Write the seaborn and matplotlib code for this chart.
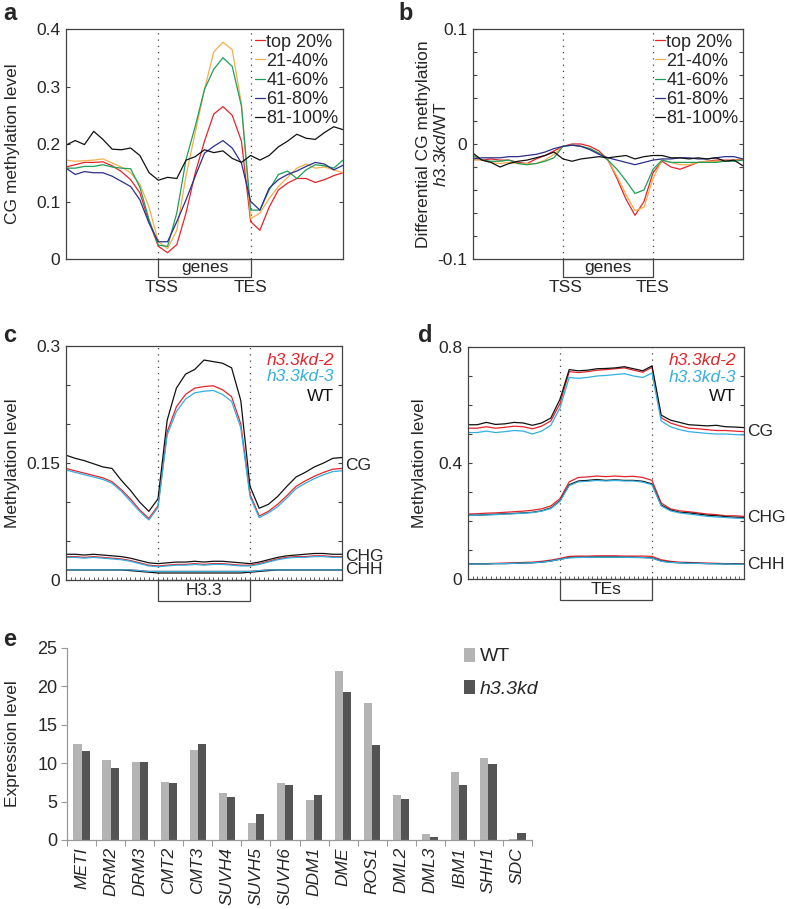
import numpy as np
import pandas as pd
import matplotlib
matplotlib.use("Agg")
import matplotlib.pyplot as plt
import matplotlib.transforms as mtransforms
from matplotlib.patches import Rectangle, Patch
from matplotlib.ticker import MultipleLocator
import seaborn as sns

sns.set_style("ticks")
plt.rcParams['font.family'] = ['Liberation Sans', 'DejaVu Sans']
plt.rcParams['mathtext.fontset'] = 'custom'
plt.rcParams['mathtext.rm'] = 'Liberation Sans'
plt.rcParams['mathtext.it'] = 'Liberation Sans:italic'

# --- dados ---
bins = list(range(0, 61, 2))   # 20 bins a montante, 20 no corpo, 20 a jusante
TSS, TES = 20, 40

# painel a: metilacao CG por quintil de expressao
a_top20 = [0.160, 0.164, 0.168, 0.168, 0.169, 0.162, 0.152, 0.138, 0.115, 0.065, 0.022,
           0.011, 0.025, 0.080, 0.150, 0.205, 0.252, 0.265, 0.250, 0.205, 0.065,
           0.050, 0.090, 0.120, 0.132, 0.140, 0.140, 0.133, 0.138, 0.145, 0.150]
a_21_40 = [0.172, 0.170, 0.171, 0.172, 0.174, 0.167, 0.160, 0.150, 0.130, 0.090, 0.030,
           0.018, 0.050, 0.145, 0.220, 0.295, 0.360, 0.377, 0.364, 0.270, 0.070,
           0.080, 0.105, 0.126, 0.142, 0.158, 0.165, 0.158, 0.160, 0.155, 0.150]
a_41_60 = [0.158, 0.158, 0.161, 0.161, 0.164, 0.160, 0.158, 0.157, 0.125, 0.068, 0.024,
           0.022, 0.080, 0.173, 0.231, 0.295, 0.330, 0.350, 0.335, 0.266, 0.085,
           0.085, 0.120, 0.147, 0.153, 0.140, 0.155, 0.164, 0.162, 0.158, 0.172]
a_61_80 = [0.158, 0.147, 0.152, 0.150, 0.150, 0.144, 0.135, 0.126, 0.103, 0.062, 0.030,
           0.030, 0.065, 0.103, 0.144, 0.184, 0.196, 0.206, 0.193, 0.167, 0.100,
           0.085, 0.123, 0.138, 0.147, 0.153, 0.161, 0.168, 0.165, 0.155, 0.163]
a_81_100 = [0.198, 0.206, 0.199, 0.222, 0.208, 0.191, 0.190, 0.193, 0.180, 0.150, 0.137,
            0.142, 0.140, 0.172, 0.178, 0.190, 0.185, 0.188, 0.175, 0.168, 0.180,
            0.172, 0.180, 0.195, 0.205, 0.217, 0.210, 0.208, 0.220, 0.230, 0.225]

# painel b: diferenca h3.3kd/WT
b_top20 = [-0.012, -0.014, -0.013, -0.014, -0.014, -0.016, -0.017, -0.013, -0.010, -0.006, -0.002,
           0.000, 0.000, -0.002, -0.006, -0.014, -0.030, -0.048, -0.062, -0.050, -0.025,
           -0.015, -0.020, -0.022, -0.019, -0.016, -0.015, -0.014, -0.014, -0.014, -0.013]
b_21_40 = [-0.014, -0.014, -0.016, -0.017, -0.016, -0.017, -0.017, -0.017, -0.014, -0.009, -0.002,
           -0.001, -0.002, -0.004, -0.008, -0.014, -0.028, -0.044, -0.058, -0.055, -0.030,
           -0.014, -0.016, -0.018, -0.018, -0.016, -0.015, -0.015, -0.015, -0.014, -0.014]
b_41_60 = [-0.010, -0.014, -0.015, -0.015, -0.014, -0.017, -0.018, -0.017, -0.015, -0.012, -0.002,
           -0.001, -0.002, -0.004, -0.008, -0.014, -0.022, -0.032, -0.043, -0.040, -0.022,
           -0.014, -0.016, -0.016, -0.016, -0.016, -0.016, -0.016, -0.015, -0.015, -0.014]
b_61_80 = [-0.013, -0.012, -0.012, -0.012, -0.011, -0.011, -0.010, -0.009, -0.007, -0.004, -0.002,
           -0.001, -0.002, -0.005, -0.009, -0.012, -0.014, -0.016, -0.018, -0.016, -0.014,
           -0.013, -0.013, -0.012, -0.012, -0.013, -0.013, -0.012, -0.011, -0.011, -0.013]
b_81_100 = [-0.008, -0.014, -0.016, -0.020, -0.017, -0.015, -0.014, -0.012, -0.010, -0.007, -0.013,
            -0.015, -0.013, -0.012, -0.011, -0.012, -0.011, -0.010, -0.013, -0.011, -0.010,
            -0.010, -0.012, -0.012, -0.013, -0.012, -0.013, -0.012, -0.015, -0.014, -0.019]

# painel c: H3.3
c_cg_wt = [0.160, 0.156, 0.153, 0.149, 0.145, 0.143, 0.128, 0.115, 0.100, 0.088, 0.104,
           0.205, 0.246, 0.264, 0.270, 0.282, 0.280, 0.278, 0.272, 0.230, 0.120,
           0.092, 0.097, 0.107, 0.120, 0.132, 0.138, 0.145, 0.150, 0.156, 0.157]
c_cg_kd2 = [0.143, 0.140, 0.137, 0.134, 0.131, 0.126, 0.116, 0.104, 0.090, 0.079, 0.095,
            0.190, 0.222, 0.238, 0.246, 0.248, 0.249, 0.244, 0.235, 0.200, 0.110,
            0.082, 0.088, 0.097, 0.108, 0.120, 0.127, 0.133, 0.138, 0.142, 0.143]
c_cg_kd3 = [0.141, 0.138, 0.135, 0.132, 0.129, 0.124, 0.114, 0.101, 0.088, 0.077, 0.093,
            0.186, 0.216, 0.232, 0.240, 0.242, 0.243, 0.238, 0.229, 0.195, 0.107,
            0.080, 0.086, 0.094, 0.105, 0.117, 0.124, 0.130, 0.135, 0.139, 0.140]
c_chg_wt = [0.033, 0.033, 0.032, 0.033, 0.032, 0.031, 0.030, 0.028, 0.025, 0.022, 0.021,
            0.022, 0.023, 0.023, 0.024, 0.023, 0.024, 0.024, 0.023, 0.022, 0.021,
            0.023, 0.026, 0.029, 0.031, 0.032, 0.033, 0.034, 0.034, 0.033, 0.033]
c_chg_kd2 = [0.030, 0.030, 0.029, 0.030, 0.029, 0.028, 0.027, 0.025, 0.022, 0.019, 0.018,
             0.019, 0.020, 0.020, 0.021, 0.020, 0.021, 0.021, 0.020, 0.019, 0.019,
             0.021, 0.024, 0.027, 0.029, 0.030, 0.030, 0.031, 0.031, 0.030, 0.030]
c_chg_kd3 = [0.029, 0.029, 0.028, 0.029, 0.028, 0.027, 0.026, 0.024, 0.021, 0.018, 0.017,
             0.018, 0.019, 0.019, 0.020, 0.019, 0.020, 0.020, 0.019, 0.018, 0.018,
             0.020, 0.023, 0.026, 0.028, 0.029, 0.029, 0.030, 0.030, 0.029, 0.029]
c_chh_wt = [0.013, 0.013, 0.013, 0.013, 0.013, 0.013, 0.013, 0.012, 0.011, 0.010, 0.009,
            0.009, 0.009, 0.009, 0.009, 0.009, 0.009, 0.009, 0.009, 0.009, 0.010,
            0.011, 0.012, 0.013, 0.013, 0.013, 0.013, 0.013, 0.013, 0.013, 0.013]
c_chh_kd2 = [0.013, 0.013, 0.013, 0.013, 0.013, 0.013, 0.013, 0.013, 0.012, 0.011, 0.011,
             0.011, 0.011, 0.011, 0.011, 0.011, 0.011, 0.011, 0.011, 0.011, 0.011,
             0.012, 0.013, 0.013, 0.013, 0.013, 0.013, 0.013, 0.013, 0.013, 0.013]
c_chh_kd3 = [0.013, 0.013, 0.013, 0.013, 0.013, 0.013, 0.013, 0.013, 0.012, 0.011, 0.011,
             0.011, 0.011, 0.011, 0.011, 0.011, 0.011, 0.011, 0.011, 0.011, 0.011,
             0.012, 0.013, 0.013, 0.013, 0.013, 0.013, 0.013, 0.013, 0.013, 0.013]

# painel d: TEs
d_cg_wt = [0.532, 0.532, 0.540, 0.533, 0.535, 0.540, 0.538, 0.530, 0.538, 0.555, 0.620,
           0.722, 0.718, 0.720, 0.725, 0.726, 0.728, 0.732, 0.725, 0.718, 0.735,
           0.565, 0.548, 0.540, 0.532, 0.530, 0.528, 0.530, 0.525, 0.524, 0.522]
d_cg_kd2 = [0.520, 0.520, 0.525, 0.520, 0.523, 0.527, 0.525, 0.518, 0.527, 0.545, 0.605,
            0.715, 0.712, 0.715, 0.720, 0.722, 0.725, 0.728, 0.720, 0.713, 0.730,
            0.556, 0.538, 0.528, 0.520, 0.518, 0.515, 0.512, 0.512, 0.510, 0.508]
d_cg_kd3 = [0.505, 0.505, 0.510, 0.505, 0.508, 0.512, 0.510, 0.500, 0.510, 0.530, 0.590,
            0.695, 0.692, 0.695, 0.700, 0.702, 0.705, 0.708, 0.700, 0.695, 0.710,
            0.545, 0.525, 0.515, 0.508, 0.505, 0.502, 0.500, 0.500, 0.498, 0.497]
d_chg_wt = [0.220, 0.220, 0.222, 0.223, 0.225, 0.226, 0.228, 0.230, 0.235, 0.245, 0.270,
            0.325, 0.338, 0.340, 0.343, 0.340, 0.342, 0.340, 0.340, 0.337, 0.328,
            0.255, 0.238, 0.230, 0.228, 0.224, 0.220, 0.218, 0.215, 0.213, 0.212]
d_chg_kd2 = [0.224, 0.225, 0.227, 0.228, 0.230, 0.232, 0.234, 0.237, 0.242, 0.252, 0.277,
             0.335, 0.350, 0.352, 0.355, 0.353, 0.355, 0.353, 0.354, 0.350, 0.340,
             0.262, 0.242, 0.235, 0.232, 0.228, 0.224, 0.222, 0.218, 0.218, 0.216]
d_chg_kd3 = [0.219, 0.220, 0.221, 0.222, 0.224, 0.225, 0.227, 0.229, 0.234, 0.243, 0.268,
             0.322, 0.335, 0.337, 0.340, 0.338, 0.340, 0.338, 0.338, 0.334, 0.325,
             0.252, 0.235, 0.228, 0.224, 0.220, 0.216, 0.214, 0.212, 0.210, 0.209]
d_chh_wt = [0.052, 0.052, 0.052, 0.053, 0.053, 0.054, 0.055, 0.056, 0.058, 0.062, 0.068,
            0.074, 0.075, 0.075, 0.076, 0.076, 0.076, 0.075, 0.075, 0.074, 0.073,
            0.062, 0.058, 0.056, 0.055, 0.054, 0.053, 0.053, 0.052, 0.052, 0.051]
d_chh_kd2 = [0.053, 0.053, 0.053, 0.054, 0.055, 0.056, 0.057, 0.058, 0.061, 0.065, 0.071,
             0.078, 0.079, 0.079, 0.080, 0.080, 0.080, 0.079, 0.079, 0.079, 0.078,
             0.066, 0.061, 0.058, 0.057, 0.056, 0.055, 0.054, 0.053, 0.053, 0.052]
d_chh_kd3 = [0.052, 0.052, 0.052, 0.053, 0.053, 0.054, 0.055, 0.056, 0.058, 0.062, 0.068,
             0.073, 0.074, 0.075, 0.075, 0.075, 0.075, 0.075, 0.074, 0.074, 0.072,
             0.061, 0.057, 0.056, 0.054, 0.054, 0.053, 0.052, 0.052, 0.051, 0.051]

# painel e: expressao
genes = ['METI', 'DRM2', 'DRM3', 'CMT2', 'CMT3', 'SUVH4', 'SUVH5', 'SUVH6',
         'DDM1', 'DME', 'ROS1', 'DML2', 'DML3', 'IBM1', 'SHH1', 'SDC']
expr_wt = [12.5, 10.4, 10.1, 7.6, 11.7, 6.1, 2.2, 7.4, 5.2, 22.0, 17.8, 5.8, 0.8, 8.8, 10.7, 0.1]
expr_kd = [11.6, 9.4, 10.2, 7.4, 12.5, 5.6, 3.4, 7.2, 5.8, 19.3, 12.4, 5.4, 0.45, 7.2, 9.9, 0.9]

quint_labels = ['top 20%', '21-40%', '41-60%', '61-80%', '81-100%']
quint_colors = ['#e3242b', '#f5ae4a', '#1f9e5a', '#2b2f8a', '#111111']
red, cyan, black = '#e3242b', '#33aee0', '#111111'

# --- figura ---
W, H = 787, 909
fig = plt.figure(figsize=(W / 100, H / 100), dpi=100)
LW = 0.9


def add_ax(x0, y0, x1, y1):
    return fig.add_axes([x0 / W, 1 - y1 / H, (x1 - x0) / W, (y1 - y0) / H])


def style_profile(ax, ylim, ticks, ticklabels, minor=None, xminor=False):
    ax.set_xlim(0, 60)
    ax.set_ylim(*ylim)
    ax.set_yticks(ticks)
    ax.set_yticklabels(ticklabels, fontsize=12.5)
    if minor:
        ax.yaxis.set_minor_locator(MultipleLocator(minor))
    ax.tick_params(axis='y', which='both', direction='in', left=True, right=True,
                   length=3, width=0.8, color='#444', pad=4)
    ax.set_xticks([])
    if xminor:
        ax.xaxis.set_minor_locator(MultipleLocator(1))
        ax.tick_params(axis='x', which='minor', direction='in', bottom=True,
                       length=2, width=0.6, color='#444')
    for sp in ax.spines.values():
        sp.set_visible(True)
        sp.set_color('#444')
        sp.set_linewidth(0.9)
    for xv in (TSS, TES):
        ax.axvline(xv, color='#444', lw=0.9, ls=(0, (1, 4)), zorder=0)


def region_box(ax, label, h, with_tss_labels):
    trans = mtransforms.blended_transform_factory(ax.transData, ax.transAxes)
    ax.add_patch(Rectangle((TSS, -h), TES - TSS, h, transform=trans, clip_on=False,
                           facecolor='white', edgecolor='#444', lw=0.9))
    ax.text((TSS + TES) / 2, -h / 2, label, transform=trans, ha='center', va='center',
            fontsize=12.5)
    if with_tss_labels:
        ax.text(TSS + 0.6, -h - 0.015, 'TSS', transform=trans, ha='center', va='top', fontsize=12.5)
        ax.text(TES, -h - 0.015, 'TES', transform=trans, ha='center', va='top', fontsize=12.5)


leg_kw = dict(loc='upper right', bbox_to_anchor=(1.0, 1.0), frameon=False, fontsize=13,
              handlelength=0.6, handletextpad=0.05, labelspacing=0.12, borderpad=0.15,
              borderaxespad=0.1)

# painel a
ax_a = add_ax(66, 29, 343, 259)
for vals, lab, col in zip([a_top20, a_21_40, a_41_60, a_61_80, a_81_100], quint_labels, quint_colors):
    sns.lineplot(x=bins, y=vals, color=col, lw=LW, label=lab, ax=ax_a)
style_profile(ax_a, (0, 0.4), [0, 0.1, 0.2, 0.3, 0.4], ['0', '0.1', '0.2', '0.3', '0.4'])
ax_a.set_ylabel('CG methylation level', fontsize=12.5)
ax_a.yaxis.set_label_coords(-0.166, 0.5)
region_box(ax_a, 'genes', 0.078, True)
ax_a.legend(**leg_kw)

# painel b
ax_b = add_ax(473, 29, 743, 259)
for vals, lab, col in zip([b_top20, b_21_40, b_41_60, b_61_80, b_81_100], quint_labels, quint_colors):
    sns.lineplot(x=bins, y=vals, color=col, lw=LW, label=lab, ax=ax_b)
style_profile(ax_b, (-0.1, 0.1), [-0.1, 0, 0.1], ['-0.1', '0', '0.1'], minor=0.02)
ax_b.set_ylabel('Differential CG methylation\n' + r'$\it{h3.3kd}$/WT', fontsize=12.5,
                linespacing=1.15)
ax_b.yaxis.set_label_coords(-0.09, 0.5)
region_box(ax_b, 'genes', 0.078, True)
ax_b.legend(**leg_kw)


def context_panel(ax, series, ylim, ticks, ticklabels, minor, label, ctx_names, lab_x):
    for group in series:
        for vals, col in zip(group, [red, black, cyan]):
            sns.lineplot(x=bins, y=vals, color=col, lw=LW, ax=ax)
    style_profile(ax, ylim, ticks, ticklabels, minor=minor, xminor=True)
    ax.set_ylabel('Methylation level', fontsize=12.5)
    ax.yaxis.set_label_coords(lab_x, 0.5)
    region_box(ax, label, 0.09, False)
    trans = mtransforms.blended_transform_factory(ax.transAxes, ax.transData)
    for group, name in zip(series, ctx_names):
        yv = np.mean([g[-1] for g in group])
        ax.text(1.012, yv, name, transform=trans, ha='left', va='center', fontsize=12.5)
    ax.text(0.97, 0.94, 'h3.3kd-2', transform=ax.transAxes, ha='right', va='center',
            fontsize=12.5, color=red, style='italic')
    ax.text(0.97, 0.868, 'h3.3kd-3', transform=ax.transAxes, ha='right', va='center',
            fontsize=12.5, color=cyan, style='italic')
    ax.text(0.97, 0.786, 'WT', transform=ax.transAxes, ha='right', va='center',
            fontsize=12.5, color=black)


ax_c = add_ax(66, 346, 342, 580)
context_panel(ax_c,
              [(c_cg_kd2, c_cg_wt, c_cg_kd3), (c_chg_kd2, c_chg_wt, c_chg_kd3),
               (c_chh_kd2, c_chh_wt, c_chh_kd3)],
              (0, 0.3), [0, 0.15, 0.3], ['0', '0.15', '0.3'], 0.05, 'H3.3',
              ['CG', 'CHG', 'CHH'], -0.167)

ax_d = add_ax(468, 347, 744, 579)
context_panel(ax_d,
              [(d_cg_kd2, d_cg_wt, d_cg_kd3), (d_chg_kd2, d_chg_wt, d_chg_kd3),
               (d_chh_kd2, d_chh_wt, d_chh_kd3)],
              (0, 0.8), [0, 0.4, 0.8], ['0', '0.4', '0.8'], 0.1, 'TEs',
              ['CG', 'CHG', 'CHH'], -0.149)

# painel e
ax_e = add_ax(67, 648, 532, 840)
df_e = pd.DataFrame({'gene': genes * 2,
                     'level': expr_wt + expr_kd,
                     'geno': ['WT'] * len(genes) + ['h3.3kd'] * len(genes)})
pal_e = {'WT': '#b4b4b4', 'h3.3kd': '#545454'}
sns.barplot(data=df_e, x='gene', y='level', hue='geno', palette=pal_e, width=0.56,
            errorbar=None, saturation=1, linewidth=0, legend=False, ax=ax_e)
ax_e.set_xlim(-0.5, len(genes) - 0.5)
ax_e.set_ylim(0, 25)
ax_e.set_yticks([0, 5, 10, 15, 20, 25])
ax_e.set_yticklabels(['0', '5', '10', '15', '20', '25'], fontsize=13)
ax_e.set_xticks(range(len(genes)))
ax_e.set_xticklabels(genes, rotation=90, fontsize=12.5, style='italic')
ax_e.xaxis.set_minor_locator(MultipleLocator(1, offset=0.5))
ax_e.tick_params(axis='x', which='major', length=0, pad=5)
ax_e.tick_params(axis='x', which='minor', length=4, width=0.8, color='#999', direction='out')
ax_e.tick_params(axis='y', length=4, width=0.8, color='#999', direction='out', pad=3)
ax_e.set_xlabel('')
ax_e.set_ylabel('Expression level', fontsize=12.5)
ax_e.yaxis.set_label_coords(-0.1, 0.5)
for side in ('top', 'right'):
    ax_e.spines[side].set_visible(False)
for side in ('left', 'bottom'):
    ax_e.spines[side].set_color('#999')
    ax_e.spines[side].set_linewidth(0.9)

handles_e = [Patch(facecolor=pal_e['WT'], edgecolor='none'),
             Patch(facecolor=pal_e['h3.3kd'], edgecolor='none')]
leg_e = fig.legend(handles_e, ['WT', 'h3.3kd'], loc='upper left',
                   bbox_to_anchor=(447 / W, 1 - 630 / H), frameon=False, fontsize=14,
                   handlelength=0.55, handleheight=0.75, handletextpad=0.25, labelspacing=0.75)
leg_e.get_texts()[1].set_style('italic')

# letras dos paineis
for letter, (px, py) in zip('abcde', [(3, 14), (398, 14), (3, 335), (418, 335), (3, 640)]):
    fig.text(px / W, 1 - py / H, letter, fontsize=17, fontweight='bold', ha='left', va='center')

fig.savefig('out.png', dpi=100)
